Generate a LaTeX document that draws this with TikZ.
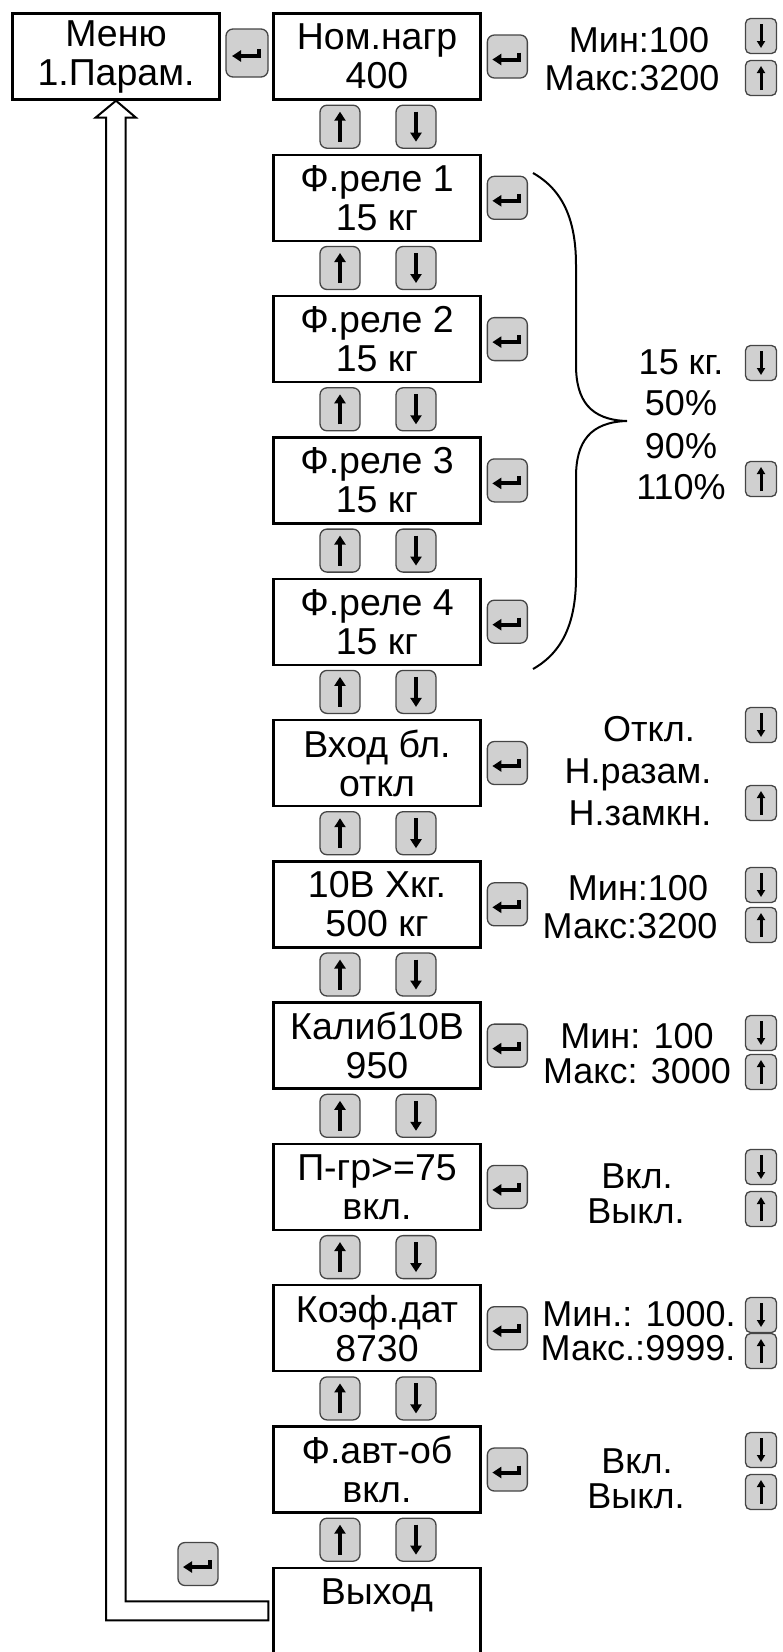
\documentclass[tikz,border=0pt]{standalone}
\usepackage{fontspec}
\setmainfont{Liberation Sans}
\usetikzlibrary{arrows.meta, calc, positioning}
\definecolor{keyGrey}{HTML}{D0D0D0}
\definecolor{keyEdge}{HTML}{454545}
\tikzset{
  % menu windows and the rounded keys beside them (1pt = 1px of the scheme)
  menubox/.style  = {draw, line width=2.4pt, minimum width=207pt, minimum height=86pt,
                     align=center, font=\fontsize{37.5}{39}\selectfont},
  keybox/.style   = {draw=keyEdge, fill=keyGrey, line width=1.3pt, rounded corners=7pt,
                     inner sep=0pt, minimum width=40pt, minimum height=43pt},
  glyph/.style    = {draw=black, fill=none, sharp corners, line width=4pt,
                     -{Triangle[length=9pt, width=11pt]}},
  sglyph/.style   = {glyph, line width=3pt, -{Triangle[length=7pt, width=8pt]}},
  enterkey/.style = {keybox, path picture={\draw[glyph]
                       ([shift={(12,-4)}]path picture bounding box.center) -- ++(0,7) -- ++(-27,0);}},
  upkey/.style    = {keybox, path picture={\draw[glyph]
                       ([yshift=-15pt]path picture bounding box.center)
                       -- ([yshift=15pt]path picture bounding box.center);}},
  downkey/.style  = {keybox, path picture={\draw[glyph]
                       ([yshift=15pt]path picture bounding box.center)
                       -- ([yshift=-15pt]path picture bounding box.center);}},
  supkey/.style   = {keybox, rounded corners=5pt, minimum width=31pt, minimum height=35pt,
                     path picture={\draw[sglyph]
                       ([yshift=-12pt]path picture bounding box.center)
                       -- ([yshift=12pt]path picture bounding box.center);}},
  sdownkey/.style = {keybox, rounded corners=5pt, minimum width=31pt, minimum height=35pt,
                     path picture={\draw[sglyph]
                       ([yshift=12pt]path picture bounding box.center)
                       -- ([yshift=-12pt]path picture bounding box.center);}},
  val/.style      = {inner sep=0pt, text height=26pt, text depth=0pt,
                     font=\fontsize{36}{37}\selectfont},
  hollow/.style   = {draw, line width=2pt, line join=miter},
  brace/.style    = {line width=2pt},
}

\begin{document}
\begin{tikzpicture}[x=1pt, y=-1pt]
  \useasboundingbox (0,0) rectangle (782,1652);
  % --- main menu window -------------------------------------------------
  \node[menubox] (menu) at (116,56.5) {Меню\\1.Парам.};
  \node[enterkey, minimum width=42pt, minimum height=48pt] (entmenu) at (247,53) {};
  % --- column of parameter windows with their keys ----------------------
  \foreach \i/\txt in {0/{Ном.нагр\\400}, 1/{Ф.реле 1\\15 кг}, 2/{Ф.реле 2\\15 кг},
                       3/{Ф.реле 3\\15 кг}, 4/{Ф.реле 4\\15 кг}, 5/{Вход бл.\\откл},
                       6/{10В Хкг.\\500 кг}, 7/{Калиб10В\\950}, 8/{П-гр>=75\\вкл.},
                       9/{Коэф.дат\\8730}, 10/{Ф.авт-об\\вкл.}}
  {
    \node[menubox] (box\i) at (377,{56.5+141.3*\i}) {\txt};
    \node[enterkey, right=5pt of box\i] (ent\i) {};
    \node[upkey]   (up\i) at ($(box\i.south)+(-37,26)$) {};
    \node[downkey] (dn\i) at ($(box\i.south)+(39,26)$) {};
  }
  \node[menubox] (exit) at (377,{56.5+141.3*11}) {Выход\\\mbox{}};
  \node[enterkey] (entexit) at (198,1564) {};
  % --- way back to the main menu -----------------------------------------
  \draw[hollow] ($(exit.west)+(-4,-9.5)$) -| ($(menu.south)+(9.5,17)$) -- ++(10.5,0)
                -- (menu.south) -- ++(-20.5,17) -- ++(10.5,0)
                |- ($(exit.west)+(-4,9.5)$) -- cycle;
  % --- brace over the four relay windows ---------------------------------
  \draw[brace] (533,173) .. controls (563,190) and (576,220) .. (576,265) -- (576,365)
               .. controls (576,400) and (590,420) .. (627,421)
               .. controls (590,422) and (576,442) .. (576,477) -- (576,577)
               .. controls (576,622) and (563,652) .. (533,669);
  % --- values that can be chosen -----------------------------------------
  \foreach \n/\xx/\yy/\txt in {min0/639/39/{Мин:100}, max0/632/77/{Макс:3200},
                               kg/681/361/{15 кг.}, p50/681/402/{50\%},
                               p90/681/445/{90\%}, p110/681/486/{110\%},
                               off5/649/728/{Откл.}, open5/638/770/{Н.разам.},
                               close5/640/812/{Н.замкн.},
                               min6/638/887/{Мин:100}, max6/630/925/{Макс:3200},
                               min7/637/1035/{Мин: 100}, max7/637/1070/{Макс: 3000},
                               on8/637/1175/{Вкл.}, off8/636/1210/{Выкл.},
                               min9/639/1313/{Мин.: 1000.}, max9/638/1347/{Макс.:9999.},
                               on10/637/1460/{Вкл.}, off10/636/1495/{Выкл.}}
    \node[val] (\n) at (\xx,\yy) {\txt};
  \foreach \n/\yd/\yu in {0/36/78, 1/363/479, 5/725/803, 6/885/925, 7/1033/1072,
                          8/1167/1209, 9/1315/1351, 10/1450/1492}
  {
    \node[sdownkey] (sdn\n) at (761,\yd) {};
    \node[supkey]   (sup\n) at (761,\yu) {};
  }
\end{tikzpicture}
\end{document}
